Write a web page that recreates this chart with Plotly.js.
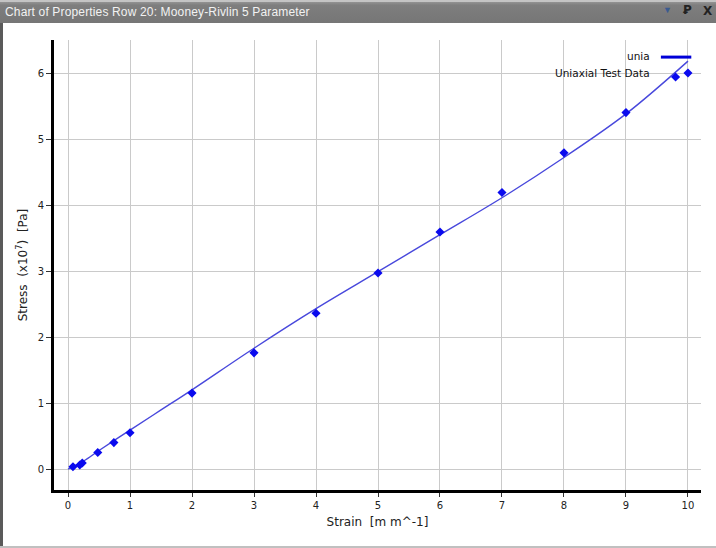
<!DOCTYPE html>
<html>
<head>
<meta charset="utf-8">
<script src="https://cdn.plot.ly/plotly-3.0.1.min.js"></script>
<style>
  html, body { margin: 0; padding: 0; background: #fff; }
  #wrap { position: relative; width: 716px; height: 548px; overflow: hidden; }
  #plot { position: absolute; left: 0; top: 0; width: 716px; height: 548px; }
  #bar {
    position: absolute; left: 0; top: 0; width: 716px; height: 23px;
    background: linear-gradient(#939393, #7e7e7e 15%, #767676);
    border-top: 2px solid #c4c4c4; box-sizing: border-box;
    font: 12px "Liberation Sans", sans-serif; color: #f2f2f2; letter-spacing: 0.15px;
  }
  #bar .t { position: absolute; left: 5px; top: 3px; }
  #bar .dd { position: absolute; left: 663px; top: 3px; font-size: 9px; color: #3a5a90; }
  #bar .pin { position: absolute; left: 683px; top: 1px; font: bold 12px "DejaVu Sans", sans-serif; color: #222; }
  #bar .x { position: absolute; left: 703px; top: 2px; font: bold 12px "DejaVu Sans", sans-serif; color: #222; }
  #lb { position: absolute; left: 0; top: 23px; width: 3px; height: 525px; background: #5a5a5a; }
  #bb { position: absolute; left: 0; top: 546px; width: 716px; height: 2px; background: #c0c0c0; }
</style>
</head>
<body>
<div id="wrap">
  <div id="plot"></div>
  <div id="bar"><span class="t">Chart of Properties Row 20: Mooney-Rivlin 5 Parameter</span><span class="dd">▼</span><span class="pin">Ꝑ</span><span class="x">X</span></div>
  <div id="lb"></div>
  <div id="bb"></div>
</div>
<script>
// Uniaxial test data (strain, stress x1e7 Pa)
const strainTest = [0.08, 0.19, 0.23, 0.48, 0.74, 1, 2, 3, 4, 5, 6, 7, 8, 9, 9.8, 10];
const stressTest = [0.035, 0.06, 0.09, 0.25, 0.40, 0.55, 1.15, 1.76, 2.36, 2.97, 3.59, 4.19, 4.79, 5.40, 5.94, 6.0];

// Mooney-Rivlin 5 parameter fit ("unia")
const strainFit = [0, 0.25, 0.5, 1, 1.5, 2, 3, 4, 5, 6, 7, 8, 9, 10];
const stressFit = [0, 0.12, 0.28, 0.59, 0.895, 1.20, 1.83, 2.43, 2.99, 3.55, 4.11, 4.72, 5.38, 6.18];

const xTicks = [0, 1, 2, 3, 4, 5, 6, 7, 8, 9, 10];
const yTicks = [0, 1, 2, 3, 4, 5, 6];

const fitTrace = {
  x: strainFit, y: stressFit, type: 'scatter', mode: 'lines', name: 'unia',
  line: { color: '#4848dc', width: 1.4, shape: 'spline' }, showlegend: false
};
const testTrace = {
  x: strainTest, y: stressTest, type: 'scatter', mode: 'markers', name: 'Uniaxial Test Data',
  marker: { symbol: 'diamond', size: 7, color: '#0a0aee' }, showlegend: false
};

const axisFont = { family: 'DejaVu Sans, sans-serif', size: 10, color: '#222' };
const titleFont = { family: 'DejaVu Sans, sans-serif', size: 12, color: '#222' };
const legFont = { family: 'DejaVu Sans, sans-serif', size: 10.5, color: '#111' };

Plotly.newPlot('plot', [fitTrace, testTrace], {
  width: 716, height: 548,
  margin: { l: 54, r: 15, t: 40, b: 58 },
  paper_bgcolor: '#fff', plot_bgcolor: '#fff',
  showlegend: false,
  xaxis: {
    range: [-0.226, 10.21], tickvals: xTicks, ticktext: xTicks.map(String),
    showgrid: true, gridcolor: '#cacaca', gridwidth: 1, zeroline: false,
    showline: true, linecolor: '#000', linewidth: 3,
    ticks: 'outside', ticklen: 4, tickcolor: '#333', tickfont: axisFont,
    title: { text: 'Strain&nbsp;&nbsp;[m m^-1]', font: titleFont, standoff: 8 }
  },
  yaxis: {
    range: [-0.318, 6.5], tickvals: yTicks, ticktext: yTicks.map(String),
    showgrid: true, gridcolor: '#cacaca', gridwidth: 1, zeroline: false,
    showline: true, linecolor: '#000', linewidth: 3,
    ticks: 'outside', ticklen: 5, tickcolor: '#333', tickfont: axisFont,
    title: { text: 'Stress&nbsp;&nbsp;(x10<sup>7</sup>)&nbsp;&nbsp;[Pa]', font: titleFont, standoff: 8 }
  },
  annotations: [
    { xref: 'paper', yref: 'paper', x: 0.924, y: 0.9644, xanchor: 'right', yanchor: 'middle',
      text: 'unia', showarrow: false, font: legFont },
    { xref: 'paper', yref: 'paper', x: 0.924, y: 0.9267, xanchor: 'right', yanchor: 'middle',
      text: 'Uniaxial Test Data', showarrow: false, font: legFont }
  ],
  shapes: [
    { type: 'line', xref: 'paper', yref: 'paper', x0: 0.938, x1: 0.985, y0: 0.962, y1: 0.962,
      line: { color: '#0000d8', width: 3 } }
  ]
}, { displayModeBar: false, staticPlot: true });
</script>
</body>
</html>
